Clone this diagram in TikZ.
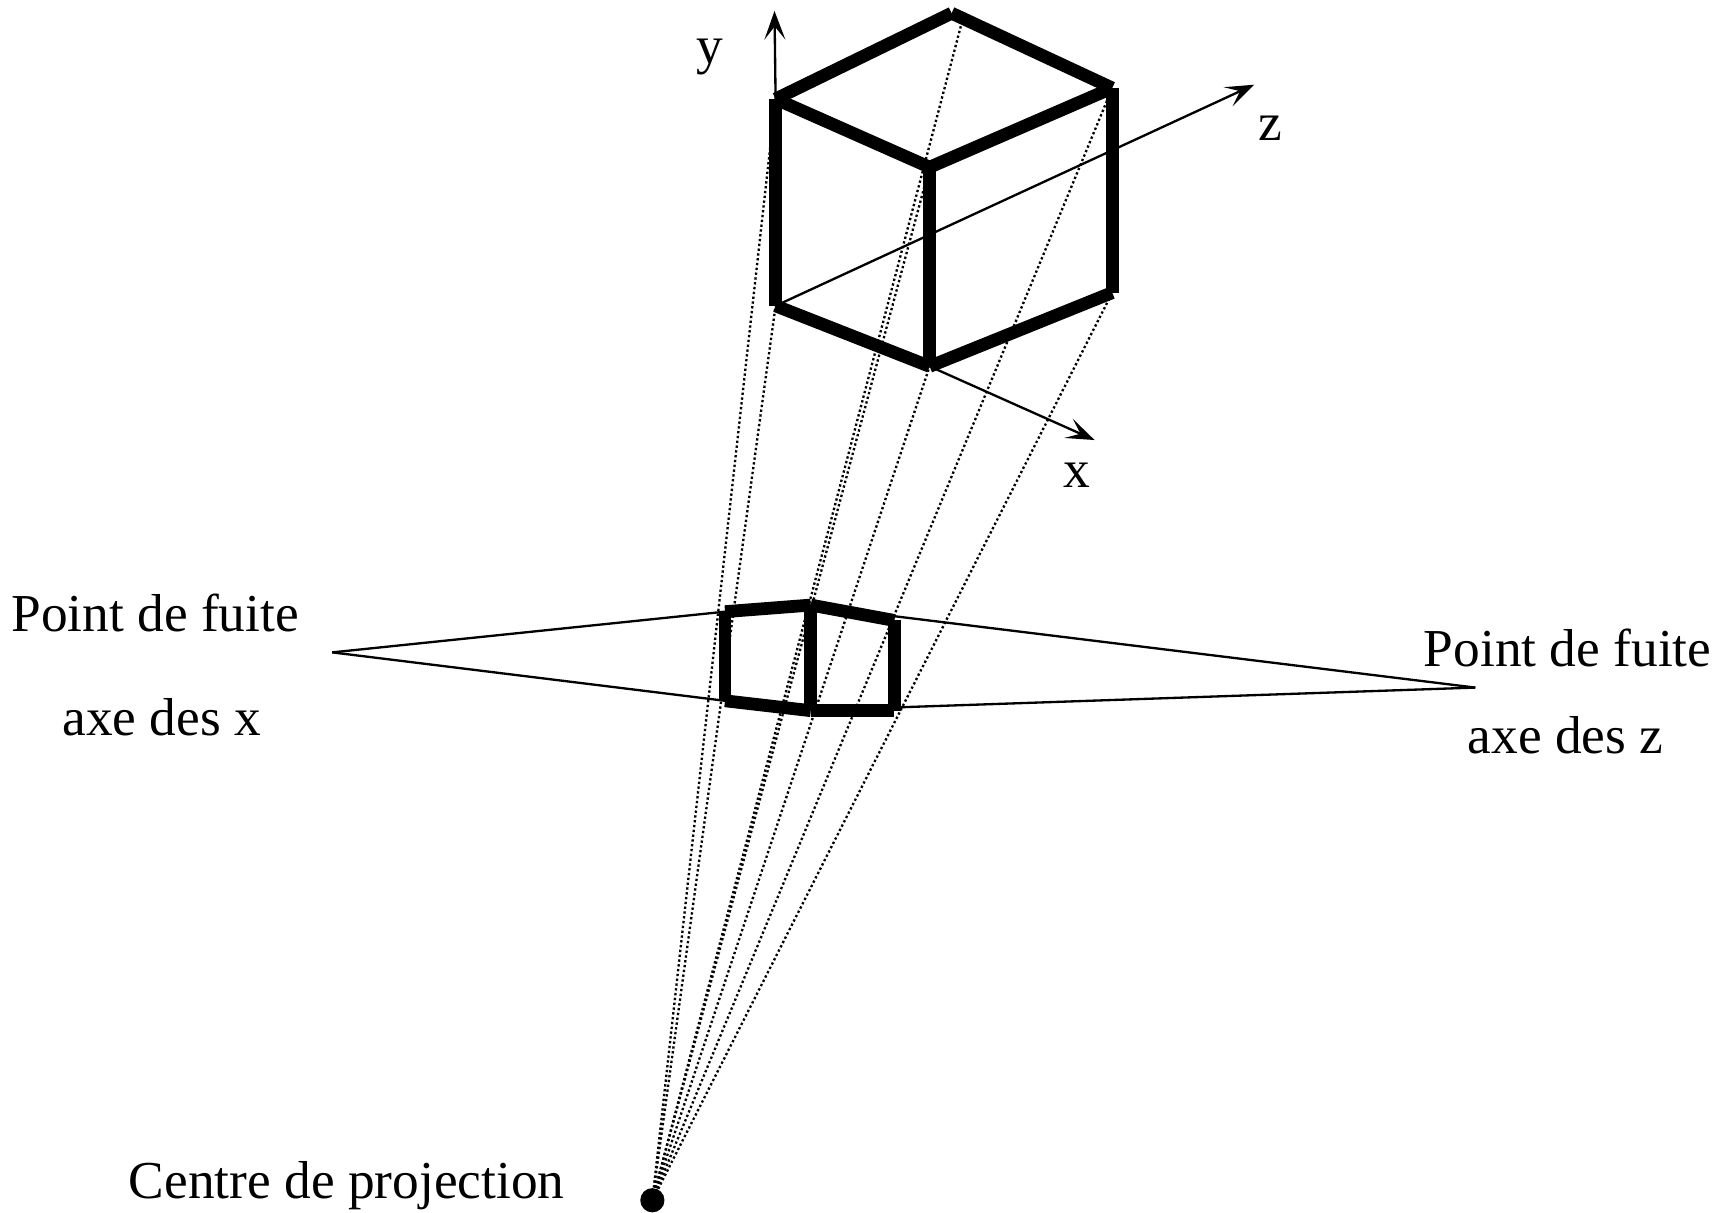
\documentclass[tikz,border=0pt]{standalone}
\usepackage{fontspec}
\setmainfont{Liberation Serif}
\usetikzlibrary{arrows.meta}

\begin{document}
\begin{tikzpicture}[
  every node/.style={font=\fontsize{13.8}{16}\selectfont, inner sep=0pt},
  heavy/.style={line width=3.3pt},
  axisline/.style={line width=0.6pt, -{Stealth[length=0.26cm, width=0.19cm, inset=0.12cm]}},
  fuite/.style={line width=0.6pt},
  rayon/.style={line width=0.6pt, dash pattern=on 0.6pt off 0.65pt},
]
\useasboundingbox (0,0) rectangle (15.68,11.02);

% cube
\coordinate (cubeA) at (7.05,10.12);
\coordinate (cubeTop) at (8.65,10.90);
\coordinate (cubeR) at (10.11,10.22);
\coordinate (cubeF) at (8.45,9.50);
\coordinate (cubeLB) at (7.05,8.24);
\coordinate (cubeFB) at (8.45,7.69);
\coordinate (cubeRB) at (10.11,8.36);
\coordinate (rayTop) at (8.77,10.92);

% image on the plane
\coordinate (imgTL) at (6.59,5.46);
\coordinate (imgTM) at (7.37,5.52);
\coordinate (imgTR) at (8.13,5.38);
\coordinate (imgBL) at (6.59,4.65);
\coordinate (imgBM) at (7.37,4.56);
\coordinate (imgBR) at (8.13,4.56);
\coordinate (pfx) at (3.02,5.09);
\coordinate (pfz) at (13.41,4.77);
\coordinate (fzTop) at (8.12,5.42);
\coordinate (fzBot) at (8.15,4.59);

% axes ends
\coordinate (yEnd) at (7.04,10.92);
\coordinate (zEnd) at (11.40,10.25);
\coordinate (xEnd) at (9.95,7.02);

\node[circle, fill=black, minimum size=0.22cm] (cp) at (5.93,0.11) {};

% rays
\draw[rayon] (cp) -- (cubeA);
\draw[rayon] (cp) -- (cubeLB);
\draw[rayon] (cp) -- (rayTop);
\draw[rayon] (cp) -- (cubeF);
\draw[rayon] (cp) -- (cubeFB);
\draw[rayon] (cp) -- (cubeR);
\draw[rayon] (cp) -- (cubeRB);

% vanishing lines
\draw[fuite] (pfx) -- (imgTL);
\draw[fuite] (pfx) -- (imgBL);
\draw[fuite] (pfz) -- (fzTop);
\draw[fuite] (pfz) -- (fzBot);

% axes
\draw[axisline] (cubeA) -- (yEnd);
\draw[axisline] (cubeLB) -- (zEnd);
\draw[axisline] (cubeFB) -- (xEnd);

% cube edges
\draw[heavy] (cubeA) -- (cubeTop);
\draw[heavy] (cubeTop) -- (cubeR);
\draw[heavy] (cubeA) -- (cubeF);
\draw[heavy] (cubeF) -- (cubeR);
\draw[heavy] (cubeA) -- (cubeLB);
\draw[heavy] (cubeF) -- (cubeFB);
\draw[heavy] (cubeR) -- (cubeRB);
\draw[heavy] (cubeLB) -- (cubeFB);
\draw[heavy] (cubeFB) -- (cubeRB);

% image edges
\draw[heavy] (imgTL) -- (imgTM);
\draw[heavy] (imgTM) -- (imgTR);
\draw[heavy] (imgTL) -- (imgBL);
\draw[heavy] (imgTM) -- (imgBM);
\draw[heavy] (imgTR) -- (imgBR);
\draw[heavy] (imgBL) -- (imgBM);
\draw[heavy] (imgBM) -- (imgBR);

% labels
\node (ylabel) at (6.45,10.50) {y};
\node (zlabel) at (11.55,9.85) {z};
\node (xlabel) at (9.79,6.70) {x};
\node (pfxa) at (1.41,5.45) {Point de fuite};
\node (pfxb) at (1.47,4.50) {axe des x};
\node (pfza) at (14.25,5.13) {Point de fuite};
\node (pfzb) at (14.23,4.34) {axe des z};
\node (cplabel) at (3.15,0.24) {Centre de projection};
\end{tikzpicture}
\end{document}
